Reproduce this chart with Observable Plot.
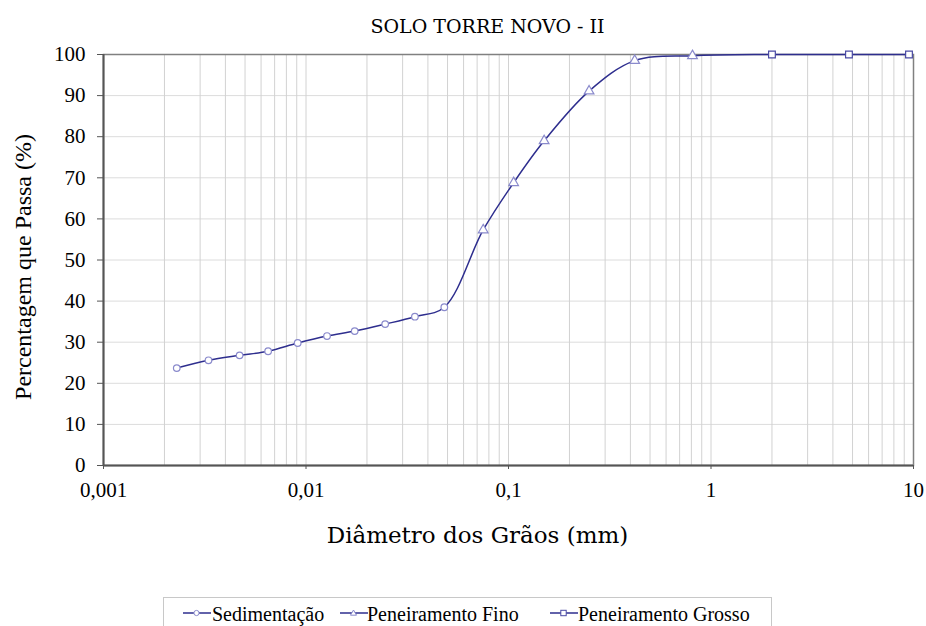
<!DOCTYPE html>
<html><head><meta charset="utf-8">
<script src="https://cdn.jsdelivr.net/npm/d3@7"></script>
<script src="https://cdn.jsdelivr.net/npm/@observablehq/plot@0.6"></script>
<style>
body{margin:0;background:#fff;}
#wrap{position:relative;width:926px;height:626px;overflow:hidden;background:#fff;}
#chart svg{display:block;}
#legend{position:absolute;left:163px;top:597px;width:609px;height:40px;border:1px solid #c8c8c8;box-sizing:border-box;font-family:"Liberation Serif",serif;font-size:20px;color:#000;background:#fff;}
#legend .sw{position:absolute;top:10px;}
#legend .tx{position:absolute;top:6px;line-height:20px;white-space:nowrap;}
</style>
</head><body>
<div id="wrap"><div id="chart"></div><div id="legend"></div></div>
<script>
// ---- data ----
const seriesNames = ["Sedimentação", "Peneiramento Fino", "Peneiramento Grosso"];
const sedDiam = [0.0023, 0.0033, 0.0047, 0.0065, 0.0091, 0.0127, 0.0174, 0.0246, 0.0345, 0.0482];
const sedPass = [23.7, 25.6, 26.8, 27.8, 29.8, 31.5, 32.7, 34.4, 36.2, 38.5];
const finoDiam = [0.075, 0.106, 0.15, 0.25, 0.42, 0.81];
const finoPass = [57.3, 68.8, 79.0, 91.1, 98.5, 99.7];
const grossoDiam = [2.0, 4.8, 9.5];
const grossoPass = [100, 100, 100];
const xTicks = [0.001, 0.01, 0.1, 1, 10];
const xTickLabels = ["0,001", "0,01", "0,1", "1", "10"];
const yTicks = [0, 10, 20, 30, 40, 50, 60, 70, 80, 90, 100];
const title = "SOLO TORRE NOVO - II";
const xLabel = "Diâmetro dos Grãos (mm)";
const yLabel = "Percentagem que Passa (%)";

// ---- build ----
const sed = sedDiam.map((d, i) => ({d, p: sedPass[i], s: seriesNames[0]}));
const fino = finoDiam.map((d, i) => ({d, p: finoPass[i], s: seriesNames[1]}));
const grosso = grossoDiam.map((d, i) => ({d, p: grossoPass[i], s: seriesNames[2]}));
const all = [...sed, ...fino, ...grosso].sort((a, b) => a.d - b.d);
const minorTicks = d3.scaleLog().domain([0.001, 10]).ticks().filter(v => v > 0.001 && v < 10);

const lineColor = "#2e2e8e";
const markLight = "#8a8acc";
const markDark = "#4a4aa4";
const serif = "'Liberation Serif', 'Times New Roman', serif";

const chart = Plot.plot({
  width: 926, height: 596,
  marginLeft: 103, marginRight: 13, marginTop: 54, marginBottom: 131,
  style: {fontFamily: serif, fontSize: "21px", background: "white", color: "black"},
  x: {type: "log", domain: [0.001, 10]},
  y: {domain: [0, 100]},
  marks: [
    Plot.gridY({ticks: yTicks.filter(v => v > 0 && v < 100), stroke: "#dcdcdc", strokeOpacity: 1}),
    Plot.gridX({ticks: minorTicks, stroke: "#d2d2d2", strokeOpacity: 1}),
    Plot.frame({stroke: "#808080", strokeWidth: 1.5}),
    Plot.axisY({ticks: yTicks, tickSize: 6, tickPadding: 12, label: null, stroke: "#555", fill: "black", fontFamily: serif, fontSize: 21}),
    Plot.axisX({ticks: xTicks, tickSize: 4, tickPadding: 13, label: null, stroke: "#555", fill: "black", fontFamily: serif, fontSize: 21,
      tickFormat: d => xTickLabels[xTicks.indexOf(d)]}),
    Plot.ruleX([0.001], {stroke: "#555", strokeWidth: 2}),
    Plot.ruleY([0], {stroke: "#555", strokeWidth: 2}),
    Plot.line(all, {x: "d", y: "p", curve: "catmull-rom", stroke: lineColor, strokeWidth: 1.5}),
    Plot.dot(sed, {x: "d", y: "p", symbol: "circle", r: 3.3, fill: "white", stroke: markLight, strokeWidth: 1.2}),
    Plot.dot(fino, {x: "d", y: "p", symbol: "triangle", r: 3.6, fill: "white", stroke: markLight, strokeWidth: 1.2}),
    Plot.dot(grosso, {x: "d", y: "p", symbol: "square", r: 3.8, fill: "white", stroke: markDark, strokeWidth: 1.2}),
    Plot.text([title], {frameAnchor: "top", lineAnchor: "bottom", dy: -22, dx: -21, fontFamily: "DejaVu Serif", fontSize: 19, fill: "black"}),
    Plot.text([xLabel], {frameAnchor: "bottom", lineAnchor: "bottom", dy: 77, dx: -31, fontFamily: "DejaVu Serif", fontSize: 23, fill: "black"}),
    Plot.text([yLabel], {frameAnchor: "left", rotate: -90, textAnchor: "middle", lineAnchor: "middle", dx: -80, dy: 7, fontFamily: serif, fontSize: 24, fill: "black"})
  ]
});
document.getElementById("chart").appendChild(chart);

// ---- legend ----
const legend = document.getElementById("legend");
const legendPos = [[19, 48], [176, 203], [386, 414]];
const legendSym = [["circle", markLight], ["triangle", markLight], ["square", markDark]];
seriesNames.forEach((name, i) => {
  const [sx, tx] = legendPos[i];
  const [sym, col] = legendSym[i];
  let shape;
  if (sym === "circle") shape = `<circle cx="13.5" cy="5" r="2.6" fill="white" stroke="${col}" stroke-width="1"/>`;
  else if (sym === "triangle") shape = `<path d="M13.5,2 L16.5,7.2 L10.5,7.2 Z" fill="white" stroke="${col}" stroke-width="1"/>`;
  else shape = `<rect x="10.8" y="2.3" width="5.4" height="5.4" fill="white" stroke="${col}" stroke-width="1"/>`;
  legend.insertAdjacentHTML("beforeend",
    `<svg class="sw" style="left:${sx}px" width="28" height="10"><line x1="0" x2="28" y1="5" y2="5" stroke="${lineColor}" stroke-width="1.5"/>${shape}</svg><span class="tx" style="left:${tx}px">${name}</span>`);
});
</script>
</body></html>
